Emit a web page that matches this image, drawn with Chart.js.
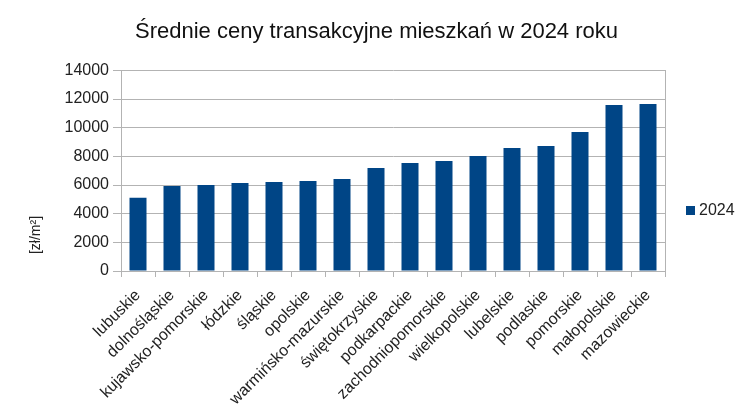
<!DOCTYPE html>
<html>
<head>
<meta charset="utf-8">
<script src="https://cdn.jsdelivr.net/npm/chart.js@4/dist/chart.umd.min.js"></script>
<style>
  html, body { margin: 0; padding: 0; background: #fff; }
  #wrap { width: 753px; height: 420px; }
</style>
</head>
<body>
<div id="wrap"><canvas id="chart"></canvas></div>
<script>
const regions = [
  "lubuskie", "dolnośląskie", "kujawsko-pomorskie", "łódzkie", "śląskie",
  "opolskie", "warmińsko-mazurskie", "świętokrzyskie", "podkarpackie",
  "zachodniopomorskie", "wielkopolskie", "lubelskie", "podlaskie",
  "pomorskie", "małopolskie", "mazowieckie",
];
const prices2024 = [
  5120, 5930, 6000, 6140, 6210, 6280, 6420, 7190, 7530,
  7670, 8020, 8580, 8720, 9700, 11580, 11650,
];
const seriesName = "2024";
const yMax = 14000;
const yStep = 2000;

const FONT = "'Liberation Sans', Arial, sans-serif";
const GRID = "#b3b3b3";
const BAR = "#004586";

// rotated y title and legend, placed like the original
const extras = {
  id: "extras",
  afterDraw(chart) {
    const { ctx } = chart;
    ctx.save();
    ctx.fillStyle = "#222";
    ctx.font = "14px " + FONT;
    ctx.translate(36, 235);
    ctx.rotate(-Math.PI / 2);
    ctx.textAlign = "center";
    ctx.textBaseline = "middle";
    ctx.fillText("[zł/m²]", 0, 0);
    ctx.restore();

    const ds = chart.data.datasets[0];
    ctx.save();
    ctx.fillStyle = ds.backgroundColor;
    ctx.fillRect(686, 206, 9, 9);
    ctx.fillStyle = "#222";
    ctx.font = "16px " + FONT;
    ctx.textBaseline = "middle";
    ctx.fillText(ds.label, 699, 211);
    ctx.restore();
  },
};

new Chart(document.getElementById("chart"), {
  type: "bar",
  data: {
    labels: regions,
    datasets: [
      {
        label: seriesName,
        data: prices2024,
        backgroundColor: BAR,
        barPercentage: 0.5,
        categoryPercentage: 1,
      },
    ],
  },
  options: {
    responsive: true,
    maintainAspectRatio: false,
    animation: false,
    layout: { padding: 0 },
    scales: {
      x: {
        grid: {
          drawOnChartArea: false,
          drawTicks: true,
          tickLength: 6,
          color: GRID,
        },
        border: { color: GRID },
        ticks: {
          minRotation: 45,
          maxRotation: 45,
          autoSkip: false,
          padding: 9,
          color: "#222",
          font: { family: FONT, size: 16 },
        },
        afterFit(scale) {
          scale.height = 149;
        },
      },
      y: {
        min: 0,
        max: yMax,
        ticks: {
          stepSize: yStep,
          padding: 4,
          color: "#222",
          font: { family: FONT, size: 16 },
          callback: (v) => String(v),
        },
        grid: { color: GRID, tickLength: 8 },
        border: { color: GRID },
        afterFit(scale) {
          scale.width = 121;
        },
      },
      // empty right axis: gives the right frame line and room for the legend
      yRight: {
        position: "right",
        min: 0,
        max: yMax,
        ticks: { display: false },
        grid: { display: false },
        border: { color: GRID },
        afterFit(scale) {
          scale.width = 88;
        },
      },
    },
    plugins: {
      legend: { display: false },
      tooltip: { enabled: false },
      title: {
        display: true,
        text: "Średnie ceny transakcyjne mieszkań w 2024 roku",
        color: "#111",
        font: { family: FONT, size: 22, weight: "normal" },
        padding: { top: 19, bottom: 25 },
      },
    },
  },
  plugins: [extras],
});
</script>
</body>
</html>
